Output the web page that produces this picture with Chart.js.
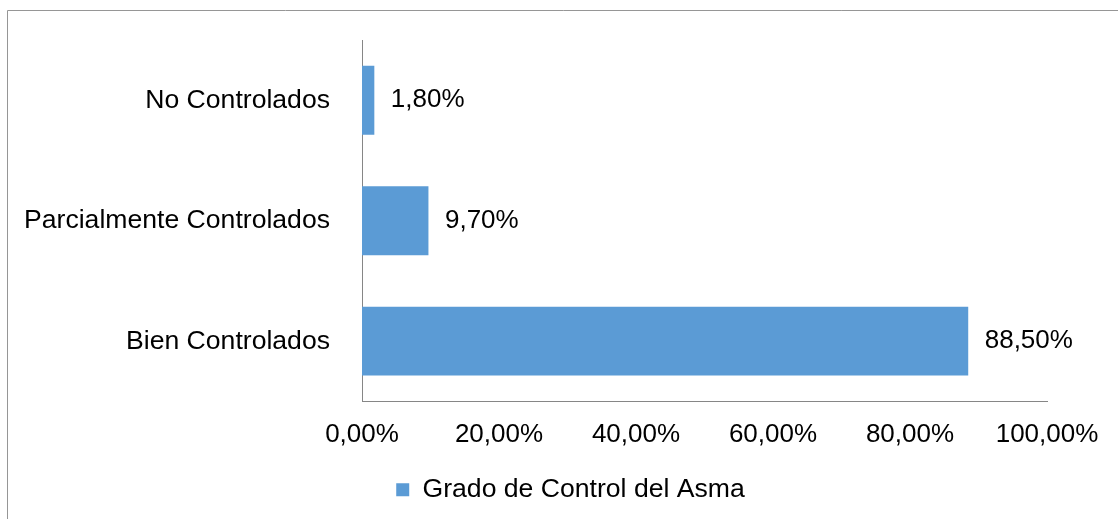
<!DOCTYPE html>
<html>
<head>
<meta charset="utf-8">
<script src="https://cdn.jsdelivr.net/npm/chart.js@4"></script>
<style>
  html, body { margin: 0; padding: 0; background: #ffffff; }
  #wrap { position: relative; width: 1118px; height: 519px; }
</style>
</head>
<body>
<div id="wrap"><canvas id="c" width="1118" height="519"></canvas></div>
<script>
const categories = ['No Controlados', 'Parcialmente Controlados', 'Bien Controlados'];
const seriesName = 'Grado de Control del Asma';
const seriesValues = [1.8, 9.7, 88.5];
const axisMin = 0;
const axisMax = 100;
const axisStep = 20;

const FONT = "'Liberation Sans', Arial, sans-serif";
const fmt = v => Number(v).toFixed(2).replace('.', ',') + '%';

const framePlugin = {
  id: 'frame',
  beforeDraw(chart) {
    const ctx = chart.ctx;
    ctx.save();
    ctx.fillStyle = '#ffffff';
    ctx.fillRect(0, 0, chart.width, chart.height);
    ctx.strokeStyle = '#969696';
    ctx.lineWidth = 1;
    ctx.beginPath();
    ctx.moveTo(7.5, chart.height + 2);
    ctx.lineTo(7.5, 10.5);
    ctx.lineTo(chart.width + 2, 10.5);
    ctx.stroke();
    ctx.restore();
  }
};

// shift the legend block so it is centred like the original
const legendShift = {
  id: 'legendShift',
  afterLayout(chart) {
    const lg = chart.legend;
    if (lg) { lg.left += 37; lg.right += 37; }
  }
};

const valueLabels = {
  id: 'valueLabels',
  afterDatasetsDraw(chart) {
    const ctx = chart.ctx;
    const meta = chart.getDatasetMeta(0);
    ctx.save();
    ctx.font = '26px ' + FONT;
    ctx.fillStyle = '#000000';
    ctx.textAlign = 'left';
    ctx.textBaseline = 'middle';
    meta.data.forEach((bar, i) => {
      ctx.fillText(fmt(chart.data.datasets[0].data[i]), bar.x + 16.5, bar.y);
    });
    ctx.restore();
  }
};

new Chart(document.getElementById('c'), {
  type: 'bar',
  data: {
    labels: categories,
    datasets: [{
      label: seriesName,
      data: seriesValues,
      backgroundColor: '#5B9BD5',
      borderWidth: 0,
      categoryPercentage: 1.0,
      barPercentage: 0.572
    }]
  },
  options: {
    indexAxis: 'y',
    responsive: false,
    animation: false,
    devicePixelRatio: 1,
    layout: { padding: { left: 20, right: 71, top: 40, bottom: 6 } },
    plugins: {
      legend: {
        position: 'bottom',
        labels: {
          boxWidth: 13,
          boxHeight: 13,
          padding: 4,
          color: '#000000',
          font: { family: FONT, size: 26.6 }
        }
      },
      tooltip: { enabled: false }
    },
    scales: {
      x: {
        min: axisMin,
        max: axisMax,
        grid: { display: false, drawTicks: false },
        border: { display: true, color: '#868686', width: 1 },
        ticks: {
          stepSize: axisStep,
          padding: 18,
          maxRotation: 0,
          autoSkip: false,
          color: '#000000',
          font: { family: FONT, size: 26 },
          callback: v => fmt(v)
        },
        afterFit: s => { s.height = 71; }
      },
      y: {
        grid: { display: false, drawTicks: false },
        border: { display: true, color: '#868686', width: 1 },
        ticks: {
          padding: 32,
          color: '#000000',
          font: { family: FONT, size: 26.6 }
        },
        afterFit: s => { s.width = 342; s.paddingTop = 0; s.paddingBottom = 0; }
      }
    }
  },
  plugins: [framePlugin, legendShift, valueLabels]
});
</script>
</body>
</html>
